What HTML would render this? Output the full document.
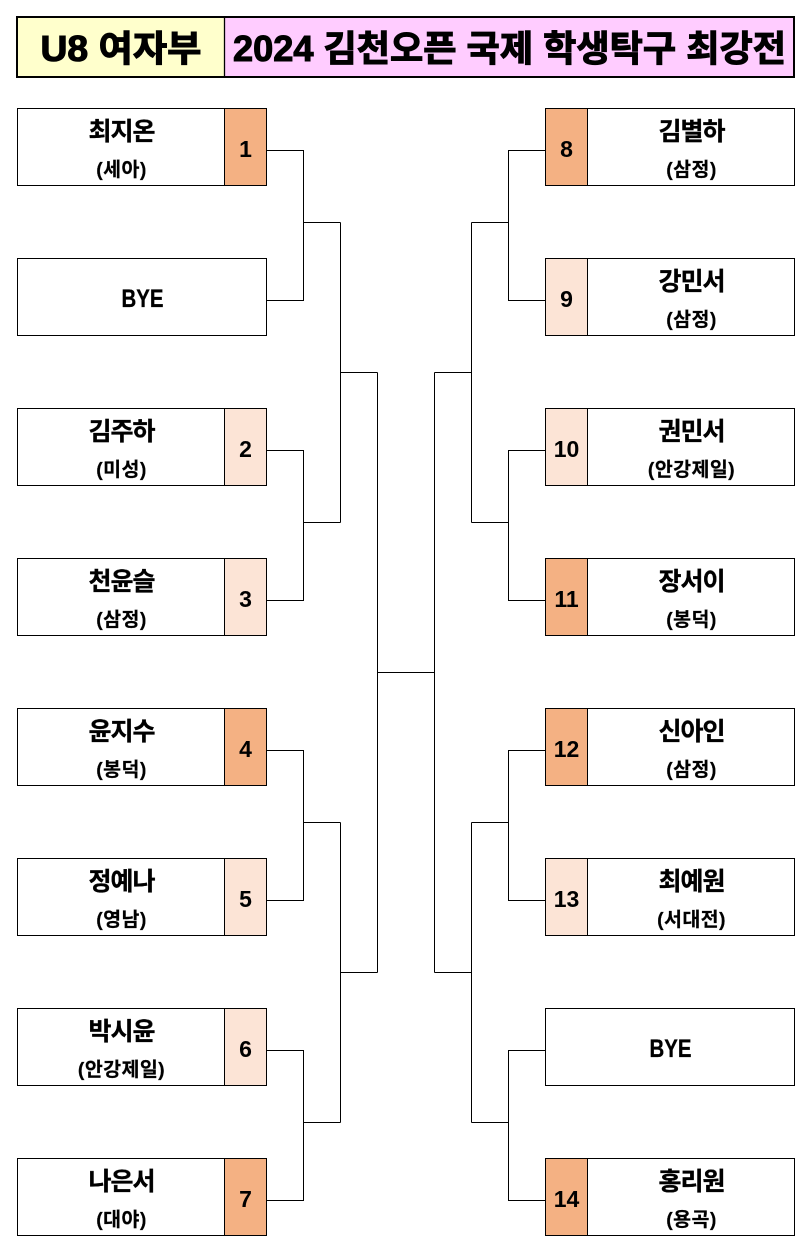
<!DOCTYPE html>
<html><head><meta charset="utf-8">
<style>
html,body{margin:0;padding:0;background:#fff;}
svg{display:block;}
text{font-family:"Liberation Sans","Noto Sans CJK KR",sans-serif;font-weight:bold;fill:#000;}
.nm{font-size:25px;letter-spacing:-1px;stroke:#000;stroke-width:0.35px;}
.sb{font-size:19.5px;letter-spacing:0.4px;stroke:#000;stroke-width:0.2px;}
.no{font-size:23px;}
.by{font-size:25px;stroke:#000;stroke-width:0.3px;}
.tt{font-size:36px;stroke:#000;stroke-width:1.1px;}
</style></head>
<body>
<svg width="812" height="1254" viewBox="0 0 812 1254" xmlns="http://www.w3.org/2000/svg">
<!-- Title -->
<rect x="17" y="17" width="208" height="60" fill="#FFFFCC"/>
<rect x="225" y="17" width="569" height="60" fill="#FFCCFF"/>
<rect x="17" y="17" width="777" height="60" fill="none" stroke="#000" stroke-width="2"/>
<line x1="224.5" y1="17" x2="224.5" y2="77" stroke="#000" stroke-width="1.3"/>
<text class="tt" x="121" y="61" text-anchor="middle" textLength="161" lengthAdjust="spacingAndGlyphs">U8 여자부</text>
<text class="tt" x="509.5" y="61" text-anchor="middle" textLength="553" lengthAdjust="spacingAndGlyphs">2024 김천오픈 국제 학생탁구 최강전</text>

<g shape-rendering="crispEdges">
<!-- Left fills -->
<rect x="225" y="109" width="41" height="76" fill="#F4B183"/>
<rect x="225" y="409" width="41" height="76" fill="#FCE4D6"/>
<rect x="225" y="559" width="41" height="76" fill="#FCE4D6"/>
<rect x="225" y="709" width="41" height="76" fill="#F4B183"/>
<rect x="225" y="859" width="41" height="76" fill="#FCE4D6"/>
<rect x="225" y="1009" width="41" height="76" fill="#FCE4D6"/>
<rect x="225" y="1159" width="41" height="76" fill="#F4B183"/>
<!-- Right fills -->
<rect x="546" y="109" width="41" height="76" fill="#F4B183"/>
<rect x="546" y="259" width="41" height="76" fill="#FCE4D6"/>
<rect x="546" y="409" width="41" height="76" fill="#FCE4D6"/>
<rect x="546" y="559" width="41" height="76" fill="#F4B183"/>
<rect x="546" y="709" width="41" height="76" fill="#F4B183"/>
<rect x="546" y="859" width="41" height="76" fill="#FCE4D6"/>
<rect x="546" y="1159" width="41" height="76" fill="#F4B183"/>

<g fill="none" stroke="#000" stroke-width="1">
<!-- Left boxes -->
<rect x="17.5" y="108.5" width="249" height="77"/>
<rect x="17.5" y="258.5" width="249" height="77"/>
<rect x="17.5" y="408.5" width="249" height="77"/>
<rect x="17.5" y="558.5" width="249" height="77"/>
<rect x="17.5" y="708.5" width="249" height="77"/>
<rect x="17.5" y="858.5" width="249" height="77"/>
<rect x="17.5" y="1008.5" width="249" height="77"/>
<rect x="17.5" y="1158.5" width="249" height="77"/>
<!-- Right boxes -->
<rect x="545.5" y="108.5" width="249" height="77"/>
<rect x="545.5" y="258.5" width="249" height="77"/>
<rect x="545.5" y="408.5" width="249" height="77"/>
<rect x="545.5" y="558.5" width="249" height="77"/>
<rect x="545.5" y="708.5" width="249" height="77"/>
<rect x="545.5" y="858.5" width="249" height="77"/>
<rect x="545.5" y="1008.5" width="249" height="77"/>
<rect x="545.5" y="1158.5" width="249" height="77"/>
<!-- dividers -->
<path d="M224.5 108.5V185.5 M224.5 408.5V485.5 M224.5 558.5V635.5 M224.5 708.5V785.5 M224.5 858.5V935.5 M224.5 1008.5V1085.5 M224.5 1158.5V1235.5"/>
<path d="M587.5 108.5V185.5 M587.5 258.5V335.5 M587.5 408.5V485.5 M587.5 558.5V635.5 M587.5 708.5V785.5 M587.5 858.5V935.5 M587.5 1158.5V1235.5"/>
<!-- Left bracket -->
<path d="M266.5 150.5H303.5V300.5H266.5 M266.5 450.5H303.5V600.5H266.5 M266.5 750.5H303.5V900.5H266.5 M266.5 1050.5H303.5V1200.5H266.5"/>
<path d="M303.5 222.5H340.5 M303.5 522.5H340.5 M303.5 822.5H340.5 M303.5 1122.5H340.5"/>
<path d="M340.5 222.5V522.5 M340.5 822.5V1122.5"/>
<path d="M340.5 372.5H377.5 M340.5 972.5H377.5 M377.5 372.5V972.5"/>
<path d="M377.5 672.5H434.5"/>
<!-- Right bracket -->
<path d="M434.5 372.5V972.5 M434.5 372.5H471.5 M434.5 972.5H471.5"/>
<path d="M471.5 222.5V522.5 M471.5 822.5V1122.5"/>
<path d="M471.5 222.5H508.5 M471.5 522.5H508.5 M471.5 822.5H508.5 M471.5 1122.5H508.5"/>
<path d="M545.5 150.5H508.5V300.5H545.5 M545.5 450.5H508.5V600.5H545.5 M545.5 750.5H508.5V900.5H545.5 M545.5 1050.5H508.5V1200.5H545.5"/>
</g>
</g>

<!-- Left texts -->
<g text-anchor="middle">
<text class="nm" x="121.5" y="140">최지온</text>
<text class="sb" x="121.5" y="176">(세아)</text>
<text class="no" x="245.5" y="157">1</text>

<text class="by" x="142.5" y="307" textLength="42" lengthAdjust="spacingAndGlyphs">BYE</text>

<text class="nm" x="121.5" y="440">김주하</text>
<text class="sb" x="121.5" y="476">(미성)</text>
<text class="no" x="245.5" y="457">2</text>

<text class="nm" x="121.5" y="590">천윤슬</text>
<text class="sb" x="121.5" y="626">(삼정)</text>
<text class="no" x="245.5" y="607">3</text>

<text class="nm" x="121.5" y="740">윤지수</text>
<text class="sb" x="121.5" y="776">(봉덕)</text>
<text class="no" x="245.5" y="757">4</text>

<text class="nm" x="121.5" y="890">정예나</text>
<text class="sb" x="121.5" y="926">(영남)</text>
<text class="no" x="245.5" y="907">5</text>

<text class="nm" x="121.5" y="1040">박시윤</text>
<text class="sb" x="121.5" y="1076">(안강제일)</text>
<text class="no" x="245.5" y="1057">6</text>

<text class="nm" x="121.5" y="1190">나은서</text>
<text class="sb" x="121.5" y="1226">(대야)</text>
<text class="no" x="245.5" y="1207">7</text>

<!-- Right texts -->
<text class="nm" x="691.5" y="140">김별하</text>
<text class="sb" x="691.5" y="176">(삼정)</text>
<text class="no" x="566.5" y="157">8</text>

<text class="nm" x="691.5" y="290">강민서</text>
<text class="sb" x="691.5" y="326">(삼정)</text>
<text class="no" x="566.5" y="307">9</text>

<text class="nm" x="691.5" y="440">권민서</text>
<text class="sb" x="691.5" y="476">(안강제일)</text>
<text class="no" x="566.5" y="457">10</text>

<text class="nm" x="691.5" y="590">장서이</text>
<text class="sb" x="691.5" y="626">(봉덕)</text>
<text class="no" x="566.5" y="607">11</text>

<text class="nm" x="691.5" y="740">신아인</text>
<text class="sb" x="691.5" y="776">(삼정)</text>
<text class="no" x="566.5" y="757">12</text>

<text class="nm" x="691.5" y="890">최예원</text>
<text class="sb" x="691.5" y="926">(서대전)</text>
<text class="no" x="566.5" y="907">13</text>

<text class="by" x="670.5" y="1057" textLength="42" lengthAdjust="spacingAndGlyphs">BYE</text>

<text class="nm" x="691.5" y="1190">홍리원</text>
<text class="sb" x="691.5" y="1226">(용곡)</text>
<text class="no" x="566.5" y="1207">14</text>
</g>
</svg>
</body></html>
